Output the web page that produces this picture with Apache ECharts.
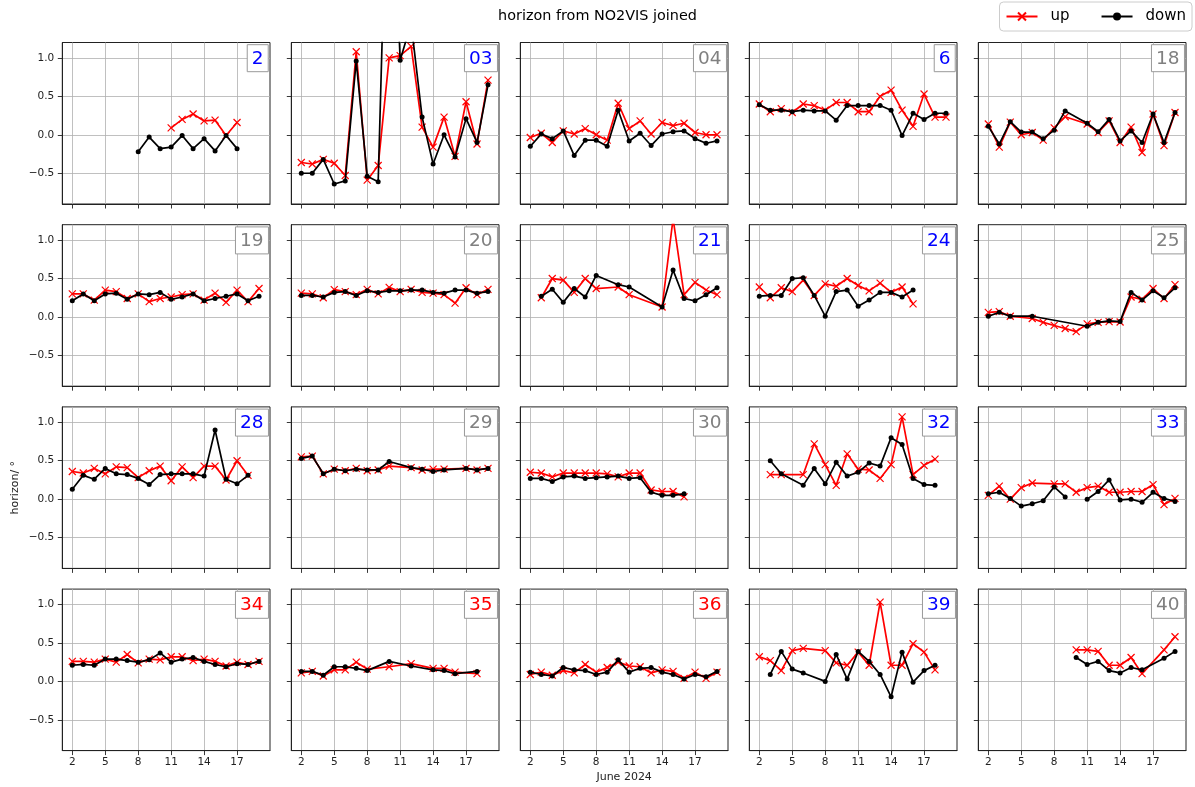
<!DOCTYPE html>
<html><head><meta charset="utf-8">
<script src="https://cdn.jsdelivr.net/npm/echarts@6/dist/echarts.min.js"></script>
<style>html,body{margin:0;padding:0;background:#fff}#c{width:1195px;height:787px}</style>
</head><body><div id="c"></div>
<script>
// ---------------- data ----------------
const DAYS = [2,3,4,5,6,7,8,9,10,11,12,13,14,15,16,17,18,19];
const X_TICKS = [2,5,8,11,14,17];
const Y_TICKS = [-0.5,0,0.5,1.0];
const PANEL_LABELS = ['2','03','04','6','18','19','20','21','24','25','28','29','30','32','33','34','35','36','39','40'];
const LABEL_KIND = ['blue','blue','gray','blue','gray','gray','gray','blue','blue','gray','blue','gray','gray','blue','blue','red','red','red','blue','gray'];
// null = no measurement that day (line joins neighbours); NaN = gap in line
const up_2 = [null,null,null,null,null,null,null,null,null,0.09,0.20,0.27,0.18,0.19,-0.01,0.16,null,null];
const down_2 = [null,null,null,null,null,null,-0.22,-0.03,-0.18,-0.16,-0.01,-0.18,-0.05,-0.21,-0.01,-0.18,null,null];
const up_03 = [-0.36,-0.38,-0.32,-0.37,-0.53,1.08,-0.59,-0.40,1.00,1.03,1.15,0.10,-0.16,0.23,-0.28,0.43,-0.12,0.71];
const down_03 = [-0.50,-0.50,-0.32,-0.64,-0.60,0.96,-0.54,-0.61,4.5,0.97,1.45,0.23,-0.38,0.00,-0.29,0.21,-0.10,0.65];
const up_04 = [-0.035,0.02,-0.10,0.05,0.01,0.08,0.00,-0.07,0.41,0.08,0.18,0.01,0.16,0.12,0.15,0.03,0.00,0.00];
const down_04 = [-0.15,0.01,-0.05,0.05,-0.27,-0.07,-0.07,-0.15,0.32,-0.08,0.02,-0.14,0.01,0.04,0.05,-0.05,-0.11,-0.08];
const up_6 = [0.40,0.30,0.34,0.29,0.40,0.38,0.32,0.42,0.42,0.30,0.30,0.50,0.58,0.32,0.11,0.53,0.23,0.23];
const down_6 = [0.39,0.32,0.32,0.30,0.32,0.31,0.31,0.19,0.38,0.38,0.38,0.38,0.32,-0.01,0.28,0.20,0.28,0.28];
const up_18 = [0.14,-0.16,0.165,0.00,0.03,-0.07,0.09,0.235,null,0.14,0.03,0.18,-0.10,0.10,-0.23,0.27,-0.14,0.29];
const down_18 = [0.11,-0.12,0.17,0.035,0.035,-0.05,0.06,0.31,null,0.15,0.04,0.20,-0.08,0.05,-0.10,0.27,-0.10,0.29];
const up_19 = [0.30,0.30,0.22,0.35,0.33,0.24,0.30,0.20,0.24,0.26,0.29,0.30,0.22,0.31,0.19,0.35,0.20,0.37];
const down_19 = [0.21,0.30,0.21,0.30,0.31,0.23,0.30,0.29,0.32,0.23,0.26,0.30,0.21,0.24,0.27,0.30,0.21,0.27];
const up_20 = [0.31,0.30,0.25,0.355,0.33,0.29,0.36,0.30,0.385,0.33,0.36,0.32,0.31,0.29,0.18,0.38,0.29,0.36];
const down_20 = [0.28,0.28,0.26,0.32,0.33,0.28,0.34,0.32,0.34,0.34,0.35,0.35,0.32,0.31,0.35,0.35,0.31,0.33];
const up_21 = [null,0.25,0.50,0.48,0.32,0.50,0.37,null,0.39,0.29,null,null,0.13,1.28,0.29,0.45,0.35,0.29];
const down_21 = [null,0.27,0.36,0.19,0.37,0.26,0.54,null,0.42,0.39,null,null,0.13,0.61,0.24,0.21,0.29,0.38];
const up_24 = [0.39,0.25,0.38,0.33,0.48,0.28,0.43,0.40,0.50,0.41,0.34,0.44,0.32,0.39,0.17,null,null,null];
const down_24 = [0.27,0.28,0.28,0.50,0.51,0.28,0.01,0.33,0.35,0.14,0.22,0.32,0.32,0.26,0.35,null,null,null];
const up_25 = [0.06,0.07,0.01,null,-0.02,-0.07,-0.11,-0.15,-0.19,-0.09,-0.07,-0.06,-0.065,0.26,0.23,0.37,0.24,0.42];
const down_25 = [0.01,0.06,0.01,null,0.01,null,null,null,null,-0.12,-0.07,-0.05,-0.06,0.32,0.22,0.34,0.25,0.38];
const up_28 = [0.36,0.34,0.40,0.33,0.42,0.41,0.28,0.37,0.43,0.24,0.42,0.28,0.43,0.43,0.25,0.50,0.31,null];
const down_28 = [0.13,0.31,0.26,0.40,0.33,0.32,0.27,0.19,0.32,0.33,0.33,0.33,0.30,0.90,0.26,0.20,0.31,null];
const up_29 = [0.55,0.56,0.33,0.39,0.37,0.40,0.37,0.38,0.43,null,0.41,0.38,0.39,0.39,null,0.40,0.38,0.40];
const down_29 = [0.53,0.56,0.33,0.39,0.37,0.39,0.38,0.38,0.49,null,0.41,0.39,0.36,0.38,null,0.40,0.38,0.40];
const up_30 = [0.35,0.34,0.29,0.34,0.34,0.34,0.34,0.33,0.29,0.34,0.34,0.12,0.10,0.10,0.03,null,null,null];
const down_30 = [0.27,0.27,0.23,0.29,0.30,0.27,0.28,0.29,0.30,0.27,0.28,0.09,0.05,0.05,0.07,null,null,null];
const up_32 = [null,0.32,0.32,null,0.32,0.72,0.45,0.18,0.59,0.39,0.38,0.27,0.45,1.07,0.32,0.44,0.52,null];
const down_32 = [null,0.50,0.33,null,0.18,0.40,0.20,0.48,0.30,0.35,0.47,0.43,0.80,0.71,0.27,0.19,0.18,null];
const up_33 = [0.05,0.17,0.00,0.15,0.21,null,0.20,0.20,0.09,0.15,0.17,0.09,0.09,0.10,0.10,0.19,-0.07,0.01];
const down_33 = [0.07,0.09,0.01,-0.09,-0.06,-0.02,0.16,0.03,NaN,0.00,0.10,0.25,-0.01,0.00,-0.04,0.09,0.01,-0.03];
const up_34 = [0.26,0.26,0.25,0.29,0.25,0.35,0.24,0.29,0.28,0.32,0.32,0.27,0.29,0.26,0.20,0.25,0.22,0.26];
const down_34 = [0.21,0.22,0.21,0.29,0.29,0.27,0.25,0.28,0.37,0.25,0.29,0.31,0.26,0.22,0.19,0.23,0.22,0.26];
const up_35 = [0.11,0.13,0.07,0.15,0.15,0.25,0.16,null,0.19,null,0.23,null,0.17,0.17,0.12,null,0.10,null];
const down_35 = [0.13,0.13,0.08,0.19,0.19,0.17,0.14,null,0.26,null,0.20,null,0.15,0.14,0.10,null,0.13,null];
const up_36 = [0.09,0.12,0.08,0.14,0.11,0.22,0.12,0.18,0.25,0.20,0.19,0.11,0.15,0.13,0.04,0.12,0.04,0.12];
const down_36 = [0.12,0.09,0.07,0.18,0.15,0.14,0.09,0.12,0.28,0.12,0.17,0.18,0.12,0.09,0.03,0.09,0.06,0.13];
const up_39 = [0.32,0.27,0.14,0.40,0.43,null,0.40,0.24,0.21,0.38,0.21,1.03,0.21,0.21,0.49,0.38,0.15,null];
const down_39 = [null,0.09,0.39,0.16,0.11,null,0.00,0.35,0.03,0.39,0.26,0.09,-0.20,0.38,-0.01,0.14,0.21,null];
const up_40 = [null,null,null,null,null,null,null,null,0.41,0.41,0.39,0.21,0.21,0.31,0.10,null,0.41,0.58];
const down_40 = [null,null,null,null,null,null,null,null,0.31,0.22,0.26,0.14,0.11,0.18,0.15,null,0.30,0.39];

const UPS = [up_2,up_03,up_04,up_6,up_18,up_19,up_20,up_21,up_24,up_25,up_28,up_29,up_30,up_32,up_33,up_34,up_35,up_36,up_39,up_40];
const DOWNS = [down_2,down_03,down_04,down_6,down_18,down_19,down_20,down_21,down_24,down_25,down_28,down_29,down_30,down_32,down_33,down_34,down_35,down_36,down_39,down_40];

// ---------------- layout / style ----------------
const W = 1195;
const FONT = 'DejaVu Sans';
const GL = 62.3, GSTEP_X = 229, GW = 207.7;
const GT = 42.5, GSTEP_Y = 182.2, GH = 161.5;
const KIND_COLOR = {blue:'#0000ff', gray:'#808080', red:'#ff0000'};
const X_SYMBOL = 'path://M0,0L10,10M10,0L0,10';

function toPairs(arr) {
  const out = [];
  arr.forEach((v, i) => {
    if (v === null) return;
    out.push(Number.isNaN(v) ? [DAYS[i], '-'] : [DAYS[i], v]);
  });
  return out;
}
function yFmt(v) {
  const s = Math.abs(v).toFixed(1);
  return (v < -1e-9 ? '\u2212' : '') + s;
}

const grids = [], xAxes = [], yAxes = [], series = [], titles = [];
titles.push({
  text: 'horizon from NO2VIS joined', left: 'center', top: 9, padding: 0,
  textStyle: {fontSize: 14.4, fontWeight: 'normal', color: '#000', fontFamily: FONT}
});

for (let i = 0; i < 20; i++) {
  const r = Math.floor(i / 5), c = i % 5;
  const left = GL + c * GSTEP_X, top = GT + r * GSTEP_Y;
  grids.push({left: left, top: top, width: GW, height: GH, show: true,
    borderColor: '#222', borderWidth: 1, backgroundColor: 'transparent', containLabel: false});
  const xa = {
    gridIndex: i, type: 'value', min: 1.09, max: 20.0,
    axisLine: {show: true, onZero: false, lineStyle: {color: '#222', width: 1}},
    axisTick: {show: true, inside: false, length: 4.5, lineStyle: {color: '#222', width: 0.9}, customValues: X_TICKS},
    axisLabel: {show: r === 3, customValues: X_TICKS, fontSize: 10.5, color: '#222', fontFamily: FONT, margin: 6,
      formatter: v => String(v)},
    splitLine: {show: true, lineStyle: {color: '#b0b0b0', width: 0.8}}
  };
  if (r === 3 && c === 2) {
    xa.name = 'June 2024'; xa.nameLocation = 'middle'; xa.nameGap = 21;
    xa.nameTextStyle = {fontSize: 11, color: '#222', fontFamily: FONT};
  }
  xAxes.push(xa);
  const ya = {
    gridIndex: i, type: 'value', min: -0.9, max: 1.2,
    axisLine: {show: true, onZero: false, lineStyle: {color: '#222', width: 1}},
    axisTick: {show: true, inside: false, length: 4.5, lineStyle: {color: '#222', width: 0.9}, customValues: Y_TICKS},
    axisLabel: {show: c === 0, customValues: Y_TICKS, fontSize: 10.5, color: '#222', fontFamily: FONT, margin: 8,
      formatter: yFmt},
    splitLine: {show: true, lineStyle: {color: '#b0b0b0', width: 0.8}}
  };
  if (r === 2 && c === 0) {
    ya.name = 'horizon/ \u00b0'; ya.nameLocation = 'middle'; ya.nameGap = 42; ya.nameRotate = 90;
    ya.nameTextStyle = {fontSize: 11, color: '#222', fontFamily: FONT};
  }
  yAxes.push(ya);

  series.push({
    name: 'up', type: 'line', xAxisIndex: i, yAxisIndex: i, data: toPairs(UPS[i]),
    symbol: X_SYMBOL, symbolSize: 7, showAllSymbol: true, clip: true,
    lineStyle: {color: '#ff0000', width: 1.7},
    itemStyle: {color: '#ff0000', borderColor: '#ff0000', borderWidth: 1.2},
    emphasis: {disabled: true}, z: 3
  });
  series.push({
    name: 'down', type: 'line', xAxisIndex: i, yAxisIndex: i, data: toPairs(DOWNS[i]),
    symbol: 'circle', symbolSize: 5, showAllSymbol: true, clip: true,
    lineStyle: {color: '#000000', width: 1.7},
    itemStyle: {color: '#000000', borderWidth: 0},
    emphasis: {disabled: true}, z: 4
  });

  const kind = LABEL_KIND[i];
  titles.push({
    text: PANEL_LABELS[i],
    right: W - (left + GW - 1.7), top: top + 1.7,
    padding: [4, 4.8, 3, 4.8],
    backgroundColor: '#ffffff', borderColor: '#999', borderWidth: 1,
    textStyle: {fontSize: 18.5, lineHeight: 21, fontWeight: 'normal', color: KIND_COLOR[kind], fontFamily: FONT}
  });
}

const chart = echarts.init(document.getElementById('c'), null, {renderer: 'canvas'});
chart.setOption({
  animation: false,
  backgroundColor: '#ffffff',
  title: titles,
  legend: {
    data: ['up', 'down'], right: 3, top: 2, orient: 'horizontal',
    itemWidth: 31, itemHeight: 10, itemGap: 31, padding: [7, 6, 7, 6],
    borderColor: '#cccccc', borderWidth: 1, borderRadius: 4, backgroundColor: '#ffffff',
    textStyle: {fontSize: 15, color: '#000', fontFamily: FONT, padding: [0, 0, 0, 8]}
  },
  grid: grids,
  xAxis: xAxes,
  yAxis: yAxes,
  series: series
});
</script>
</body></html>
